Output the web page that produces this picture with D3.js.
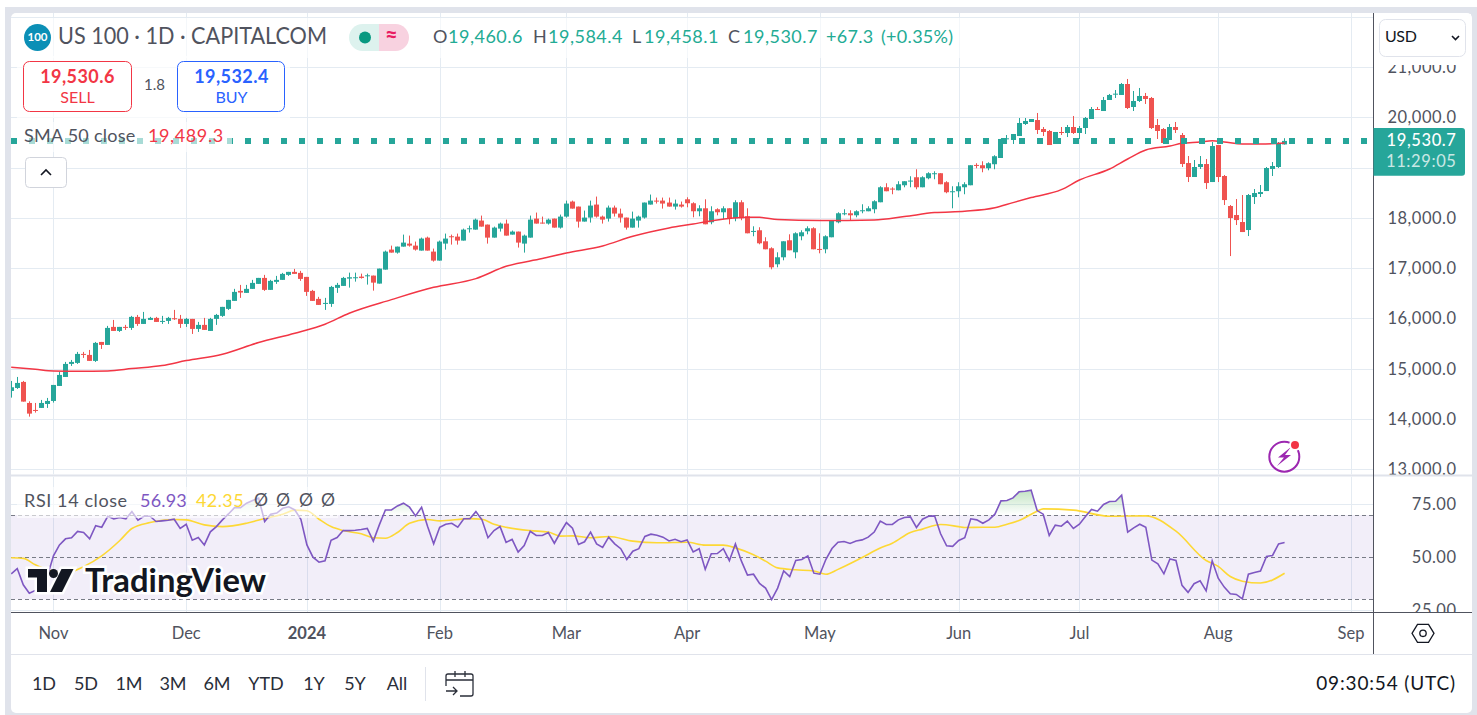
<!DOCTYPE html>
<html lang="en">
<head>
<meta charset="UTF-8">
<title>US 100 - 1D</title>
<script src="https://d3js.org/d3.v7.min.js"></script>
<style>
  html, body { margin: 0; padding: 0; background: #fff; overflow: hidden; }
  svg { display: block; }
  text { font-family: "Lato", "Noto Sans", sans-serif; }
</style>
</head>
<body>
<div id="chart"></div>
<script>
// values, one entry per daily bar
const opens = [
  14560,14619,14739,14321,14182,14222,14301,14361,14659,14838,
  15097,15117,15296,15276,15157,15534,15475,15833,15753,15833,
  15813,16032,15892,15972,16012,15939,15952,16005,15992,15892,
  15992,15793,15873,15753,15992,16052,16191,16350,16549,16509,
  16589,16688,16807,16569,16728,16768,16867,16927,16907,16827,
  16549,16390,16290,16290,16609,16648,16793,16800,16833,16839,
  16853,16694,16972,17370,17310,17429,17489,17449,17350,17608,
  17330,17151,17489,17635,17628,17549,17781,17767,17947,17867,
  17608,17787,17887,17668,17728,17489,17608,17986,17907,17887,
  17986,17807,18026,18325,18225,17927,18006,18265,18026,17986,
  18205,18086,18006,17807,17947,18006,18265,18344,18344,18305,
  18225,18265,18370,18291,18132,18191,17913,18172,18112,18191,
  17993,18311,18032,17721,17754,17535,17396,17078,17217,17555,
  17316,17635,17734,17794,17383,17376,17615,17913,18072,18092,
  18052,18132,18132,18172,18311,18609,18583,18549,18649,18729,
  18808,18609,18788,18874,18888,18709,18510,18530,18609,18649,
  19053,19047,18987,19067,19191,19569,19549,19628,19867,19907,
  19946,19767,19728,19469,19708,19688,19807,19688,19787,19966,
  20165,20125,20344,20450,20444,20662,20205,20324,20424,20384,
  19847,19767,19549,19807,19648,19091,18813,19012,19071,18713,
  19449,18833,18236,18057,17918,17759,18415,18475,18534,18972,
  19012,19460.6];
const highs = [
  14759,14838,14759,14354,14321,14381,14421,14679,14938,15137,
  15176,15336,15336,15375,15534,15534,15853,15972,15833,15873,
  16052,16071,16131,16032,16032,16052,16032,16171,16071,16012,
  15992,15932,16012,16012,16091,16231,16370,16589,16668,16668,
  16768,16807,16867,16768,16847,16907,16927,16986,16947,16827,
  16569,16430,16410,16648,16708,16827,16912,16912,16892,16892,
  16853,16992,17350,17449,17429,17668,17648,17529,17608,17628,
  17390,17549,17688,17668,17688,17787,17847,17986,18046,17867,
  17827,17907,17966,17748,17728,17668,18046,18106,18026,17986,
  17986,18066,18344,18344,18225,18145,18344,18424,18046,18245,
  18245,18185,18006,18125,18046,18305,18464,18404,18404,18404,
  18364,18325,18410,18311,18251,18370,18231,18191,18231,18191,
  18351,18351,18191,17833,17814,17615,17416,17316,17535,17674,
  17714,17754,17833,17814,17694,17654,17953,18112,18172,18152,
  18152,18271,18231,18351,18629,18689,18609,18729,18729,18828,
  18967,18828,18908,18927,18888,18729,18629,18709,18709,19047,
  19087,19126,19106,19246,19569,19648,19668,19986,19986,19966,
  20086,19807,19748,19708,19807,19847,20026,19827,20006,20205,
  20205,20404,20464,20543,20682,20762,20523,20583,20484,20404,
  19966,19787,19867,19907,19688,19230,19151,19230,19171,19509,
  19449,18853,18256,18375,18455,18475,18574,18654,19012,19111,
  19509,19584.4];
const lows = [
  14427,14600,14348,14049,14129,14222,14222,14328,14659,14838,
  15057,15097,15216,15157,15137,15395,15475,15753,15733,15773,
  15773,15853,15892,15972,15932,15892,15892,15972,15813,15833,
  15693,15733,15773,15753,15873,16032,16171,16350,16410,16509,
  16589,16688,16549,16569,16688,16768,16847,16887,16748,16449,
  16350,16270,16171,16231,16509,16648,16614,16733,16793,16674,
  16554,16694,16972,17310,17290,17429,17429,17350,17350,17350,
  17131,17151,17370,17469,17469,17549,17708,17767,17827,17489,
  17608,17728,17648,17668,17410,17310,17608,17887,17887,17867,
  17807,17787,18006,18185,17807,17927,17907,18006,17887,17927,
  18026,17907,17767,17807,17807,17986,18265,18285,18185,18225,
  18165,18205,18211,18012,18032,17873,17873,18052,17973,17873,
  17933,17953,17694,17635,17475,17376,16978,17018,17157,17356,
  17197,17555,17674,17376,17296,17296,17615,17893,18052,17953,
  18012,18092,18132,18092,18311,18530,18470,18549,18609,18609,
  18569,18609,18768,18768,18669,18490,18191,18410,18470,18649,
  18987,18907,18947,18967,19191,19469,19469,19628,19847,19907,
  19668,19628,19449,19469,19648,19608,19668,19569,19668,19966,
  20145,20125,20344,20384,20444,20165,20125,20304,20265,19767,
  19569,19489,19549,19688,19012,18713,18813,18972,18574,18713,
  18713,18256,17241,17858,17719,17639,18276,18415,18534,18833,
  18992,19458.1];
const closes = [
  14633,14719,14348,14109,14162,14321,14361,14679,14878,15097,
  15137,15296,15276,15157,15515,15475,15813,15753,15833,15813,
  16032,15892,15992,16012,15932,15952,16012,15985,15892,15992,
  15793,15873,15773,15992,16071,16231,16370,16529,16516,16589,
  16708,16807,16569,16748,16768,16887,16927,16887,16787,16529,
  16350,16270,16310,16628,16668,16807,16820,16820,16806,16859,
  16713,16992,17330,17310,17429,17509,17449,17370,17589,17350,
  17151,17529,17589,17615,17549,17767,17794,17966,17827,17608,
  17807,17887,17648,17728,17509,17648,17966,17887,17894,17966,
  17807,18026,18285,18185,17927,18006,18245,18026,17966,18205,
  18086,18006,17807,17986,18026,18305,18344,18325,18285,18225,
  18285,18225,18291,18132,18191,17873,18132,18112,18191,17993,
  18311,17993,17694,17741,17495,17376,17018,17217,17535,17356,
  17694,17714,17794,17376,17363,17635,17953,18092,18092,18052,
  18132,18152,18191,18331,18609,18530,18569,18669,18729,18742,
  18609,18808,18888,18888,18669,18510,18530,18629,18669,19047,
  19033,18987,19087,19226,19569,19582,19668,19887,19927,19966,
  19748,19708,19449,19708,19695,19807,19688,19787,19986,20165,
  20145,20344,20444,20470,20662,20185,20324,20424,20364,19787,
  19728,19489,19807,19748,19071,18813,19012,19071,18693,19429,
  18813,18355,17997,17957,17719,18455,18495,18514,18992,19032,
  19489,19530.7];

// SMA 50, read at these bar numbers
const smaBars = [0,4,7,11,16,20,25,29,35,41,47,52,56,63,70,77,82,88,92,98,103,109,113,116,122,124,127,134,143,148,153,158,163,166,169,174,177,182,185,188,192,194,197,199,201,204,207,211];
const smaVals = [15030,14990,14958,14951,14958,15004,15064,15163,15289,15521,15707,15886,16105,16375,16620,16793,17038,17191,17303,17443,17635,17801,17880,17940,18012,18012,17966,17946,17959,18026,18105,18132,18200,18304,18404,18561,18753,18972,19171,19350,19429,19482,19509,19535,19509,19469,19469,19489.3];

const rsiVals = [
  42.1,44.6,36.9,32.9,34.2,37.7,41,50.6,55.8,58.7,
  59.2,62.2,61.7,58.7,64.9,64.2,69.4,68.2,68.8,68.2,
  71.6,67.5,69.4,69.4,66.9,67.2,67.5,68,63.6,65.6,
  58,59.3,55.8,62,64.5,67.7,70.5,73.5,73.5,75.6,
  76.9,78,66.9,70.4,70.9,73.2,73.9,72.4,68,55.8,
  50,47.6,48.3,58,59.3,62.6,62.6,62.8,63.1,63.6,
  57.6,65.3,72.4,72.4,74.3,75.6,73.7,69.6,73.7,64.5,
  56.3,64.2,65.6,66.1,64.2,68.2,68.2,71.6,67.7,59.2,
  62.6,64.5,57,58.4,52.4,55.5,62.3,60.3,60.3,61.7,
  56.6,61.7,66.4,63.7,56,57.3,61.9,56.3,54.6,59.5,
  56.3,54,48.9,52.8,54,59.8,60.9,60.4,59.5,57.7,
  58.5,57.3,58.2,52.5,54,44.2,51.6,51.7,54,48.3,
  56.3,48.1,41.5,41.9,37.5,35.3,29.9,35.3,43.5,40.8,
  48.4,48.9,50.6,42.4,41.9,49,54.1,57.1,57.4,56.5,
  57.7,58.2,59.5,61.9,67.1,65.5,65.5,67.7,68.8,69.1,
  64.1,68,69.4,69.6,61.1,55.4,55.1,57.9,59.2,68.2,
  67.7,66.1,67.7,70.4,76.7,76.9,78.1,81,81.3,81.8,
  72.1,70.4,60.3,65.2,64.7,67.1,63.6,65.6,69.3,72.6,
  71.8,75,76.4,76.5,79.4,61.9,63.9,65.6,64.2,48.6,
  46.8,42.1,49.1,48.4,36.6,33.3,37.4,38.8,34,48.3,
  40,35.8,32.6,32.3,30.2,41.9,42.7,43.4,50.3,50.8,
  56.3,56.93];

// RSI moving average, read at these bar numbers
const rsiMaBars = [0,2,4,6,9,12,15,18,20,23,27,29,32,35,39,42,45,47,49,51,53,55,58,60,62,64,66,69,71,76,78,80,82,86,89,91,93,96,99,103,107,112,115,118,120,123,125,127,130,133,135,137,141,144,146,149,151,154,157,158,161,163,165,167,170,171,176,182,188,193,198,200,202,204,207,211];
const rsiMaVals = [49.7,49.4,46.4,44,42.5,45.5,50.6,57.9,63.6,66.4,67.9,67.7,65.3,64.5,66.1,68.3,70.4,72.3,72,68,64.5,62.6,61.1,59.2,59,61.7,66.1,67.9,67.2,68.3,68,65.6,64.2,62.6,61.9,60,60.1,59.2,59.8,57.6,56.8,57.1,55.7,55.7,54.4,51.1,48.1,44.9,44,43.4,41.9,44.2,49.8,54.3,56.6,61.7,63.3,65.5,64.5,64.1,64.2,64.2,65.6,67.4,71.8,72.9,72.3,69.4,69.6,62.3,48.4,45.6,40.8,38.6,37.7,42.35];

const priceTicks = [13000,14000,15000,16000,17000,18000,19000,20000,21000,22000];
const priceLabels = [13000,14000,15000,16000,17000,18000,20000,21000]; // 19,000 sits under the last price tag
const rsiTicks = [25,50,75];
const rsiLevels = [30,50,70];
const timeBars = [7,29,49,71,92,112,134,157,177,200,222];
const timeLabels = ["Nov","Dec","2024","Feb","Mar","Apr","May","Jun","Jul","Aug","Sep"];
const rangeLabels = ["1D","5D","1M","3M","6M","YTD","1Y","5Y","All"];
const rangeCenters = [44,86,129,173,217,266,314,355,397];

const up = "#26a69a", down = "#ef5350", gridCol = "#e4ebf2", textCol = "#50535e", frameCol = "#e0e3eb";

const W = 1477, H = 715;
const paneL = 11, paneR = 1373, mainT = 13, mainB = 474.5, rsiT = 476.5, rsiB = 612;
const labelTop = 65;

const svg = d3.select("#chart").append("svg").attr("width", W).attr("height", H);

const x = d3.scaleLinear().domain([0, 211]).range([11.2, 1284.6]);
const y = d3.scaleLinear().domain([13000, 20000]).range([469.4, 117.3]);
const yRsi = d3.scaleLinear().domain([30, 70]).range([599.3, 515]);

// outer frame
svg.append("rect").attr("x", 5).attr("y", 7).attr("width", W - 5).attr("height", H - 7).attr("fill", frameCol);
svg.append("rect").attr("x", paneL).attr("y", mainT).attr("width", 1461).attr("height", 700).attr("rx", 5).attr("fill", "#fff");

const defs = svg.append("defs");
function clip(id, x0, y0, w, h) {
  defs.append("clipPath").attr("id", id).append("rect").attr("x", x0).attr("y", y0).attr("width", w).attr("height", h);
}
clip("mainClip", paneL, mainT, paneR - paneL, mainB - mainT);
clip("rsiClip", paneL, rsiT, paneR - paneL, rsiB - rsiT);
clip("aboveClip", paneL, rsiT, paneR - paneL, yRsi(70) - rsiT);
clip("priceLabels", paneR, labelTop, 98, mainB - labelTop);
clip("rsiLabels", paneR, rsiT, 98, rsiB - rsiT);

const gradient = defs.append("linearGradient").attr("id", "obFill").attr("x1", 0).attr("x2", 0).attr("y1", 0).attr("y2", 1)
  .attr("gradientUnits", "userSpaceOnUse").attr("y1", yRsi(82)).attr("y2", yRsi(70));
gradient.append("stop").attr("offset", 0).attr("stop-color", "#4caf50").attr("stop-opacity", 0.35);
gradient.append("stop").attr("offset", 1).attr("stop-color", "#4caf50").attr("stop-opacity", 0);

const main = svg.append("g").attr("clip-path", "url(#mainClip)");
const pane2 = svg.append("g").attr("clip-path", "url(#rsiClip)");

// grid lines
function snap(v) { return Math.round(v) + 0.5; }
main.selectAll(".vg").data(timeBars).join("line")
  .attr("x1", d => snap(x(d))).attr("x2", d => snap(x(d))).attr("y1", mainT).attr("y2", mainB)
  .attr("stroke", gridCol);
main.selectAll(".hg").data(priceTicks).join("line")
  .attr("x1", paneL).attr("x2", paneR).attr("y1", d => snap(y(d))).attr("y2", d => snap(y(d)))
  .attr("stroke", gridCol);

// candles
const bars = d3.range(opens.length);
main.selectAll(".wick").data(bars).join("line")
  .attr("x1", d => snap(x(d) - 0.5)).attr("x2", d => snap(x(d) - 0.5))
  .attr("y1", d => y(highs[d])).attr("y2", d => y(lows[d]))
  .attr("stroke", d => closes[d] >= opens[d] ? up : down);
main.selectAll(".body").data(bars).join("rect")
  .attr("x", d => Math.round(x(d) - 0.5) - 2).attr("width", 5)
  .attr("y", d => Math.min(y(opens[d]), y(closes[d])))
  .attr("height", d => Math.max(1, Math.abs(y(opens[d]) - y(closes[d]))))
  .attr("fill", d => closes[d] >= opens[d] ? up : down);

// SMA line
main.append("path")
  .attr("d", d3.line().x((d, i) => x(smaBars[i])).y(d => y(d)).curve(d3.curveMonotoneX)(smaVals))
  .attr("fill", "none").attr("stroke", "#f23645").attr("stroke-width", 1.5);

// last price line
main.append("line")
  .attr("x1", paneL).attr("x2", paneR).attr("y1", y(closes[211])).attr("y2", y(closes[211]))
  .attr("stroke", up).attr("stroke-width", 6).attr("stroke-dasharray", "6 12");

// RSI pane
pane2.selectAll(".vg").data(timeBars).join("line")
  .attr("x1", d => snap(x(d))).attr("x2", d => snap(x(d))).attr("y1", rsiT).attr("y2", rsiB)
  .attr("stroke", gridCol);
pane2.selectAll(".hg").data(rsiTicks.filter(d => d != 50)).join("line")
  .attr("x1", paneL).attr("x2", paneR).attr("y1", d => snap(yRsi(d))).attr("y2", d => snap(yRsi(d)))
  .attr("stroke", gridCol);
pane2.append("rect").attr("x", paneL).attr("width", paneR - paneL)
  .attr("y", yRsi(70)).attr("height", yRsi(30) - yRsi(70)).attr("fill", "#7e57c2").attr("opacity", 0.1);
pane2.selectAll(".lvl").data(rsiLevels).join("line")
  .attr("x1", paneL).attr("x2", paneR).attr("y1", d => snap(yRsi(d))).attr("y2", d => snap(yRsi(d)))
  .attr("stroke", "#787b86").attr("stroke-dasharray", "4 3");
pane2.append("path")
  .attr("clip-path", "url(#aboveClip)")
  .attr("d", d3.area().x((d, i) => x(i)).y0(yRsi(70)).y1(d => yRsi(d))(rsiVals))
  .attr("fill", "url(#obFill)");
pane2.append("path")
  .attr("d", d3.line().x((d, i) => x(rsiMaBars[i])).y(d => yRsi(d)).curve(d3.curveMonotoneX)(rsiMaVals))
  .attr("fill", "none").attr("stroke", "#fdd835").attr("stroke-width", 1.6);
pane2.append("path")
  .attr("d", d3.line().x((d, i) => x(i)).y(d => yRsi(d))(rsiVals))
  .attr("fill", "none").attr("stroke", "#7e57c2").attr("stroke-width", 1.6);

// small text helper, py is the visual middle of the digits
function label(px, py, str, size, fill, anchor, weight, spacing) {
  return svg.append("text").attr("x", px).attr("y", py + 1.5).text(str)
    .attr("font-size", size).attr("fill", fill)
    .attr("text-anchor", anchor || "start").attr("font-weight", weight || 400)
    .attr("letter-spacing", spacing || 0)
    .attr("dominant-baseline", "middle");
}
function veil(x0, y0, w, h, op) {
  svg.append("rect").attr("x", x0).attr("y", y0).attr("width", w).attr("height", h).attr("fill", "#fff").attr("opacity", op);
}

// legend veils
veil(17, 18, 945, 40, 0.6);
veil(17, 56, 273, 62, 0.7);
veil(17, 122, 215, 30, 0.6);
veil(17, 487, 321, 31, 0.6);

// header
svg.append("circle").attr("cx", 37.5).attr("cy", 37.5).attr("r", 13.5).attr("fill", "#0b8fb6");
label(37.5, 36.5, "100", 11.5, "#fff", "middle", 700);
label(58, 36.5, "US 100 · 1D · CAPITALCOM", 22.5, textCol).attr("textLength", 269).attr("lengthAdjust", "spacingAndGlyphs");
svg.append("path").attr("d", "M379 24 H362.5 A13.5 13.5 0 0 0 362.5 51 H379 Z").attr("fill", "#ddf2ee");
svg.append("path").attr("d", "M379 24 H395.5 A13.5 13.5 0 0 1 395.5 51 H379 Z").attr("fill", "#f8d2e0");
svg.append("circle").attr("cx", 365).attr("cy", 37.5).attr("r", 6).attr("fill", "#089981");
label(391.5, 36, "≈", 22, "#e91e63", "middle", 700);

const teal = "#22ab94";
label(433, 37, "O", 18, textCol); label(448, 37, "19,460.6", 18, teal, "start", 400, 0.5);
label(533, 37, "H", 18, textCol); label(548, 37, "19,584.4", 18, teal, "start", 400, 0.5);
label(632, 37, "L", 18, textCol); label(644, 37, "19,458.1", 18, teal, "start", 400, 0.5);
label(728, 37, "C", 18, textCol); label(743, 37, "19,530.7", 18, teal, "start", 400, 0.5);
label(826, 37, "+67.3", 18, teal, "start", 400, 0.3); label(881, 37, "(+0.35%)", 18, teal, "start", 400, 0.3);

// sell / buy boxes
svg.append("rect").attr("x", 23.5).attr("y", 61.5).attr("width", 108).attr("height", 50).attr("rx", 6)
  .attr("fill", "#fff").attr("stroke", "#f23645");
svg.append("rect").attr("x", 177.5).attr("y", 61.5).attr("width", 107).attr("height", 50).attr("rx", 6)
  .attr("fill", "#fff").attr("stroke", "#2962ff");
label(77.5, 77, "19,530.6", 18, "#f23645", "middle", 700, 0.45);
label(77.5, 97, "SELL", 16, "#f23645", "middle");
label(154.5, 85, "1.8", 15, textCol, "middle");
label(231.5, 77, "19,532.4", 18, "#2962ff", "middle", 700, 0.45);
label(231.5, 97, "BUY", 16, "#2962ff", "middle");

label(24, 136, "SMA 50 close", 18, textCol, "start", 400, 0.25);
label(148, 136, "19,489.3", 18, "#f23645", "start", 400, 0.6);
svg.append("rect").attr("x", 25.5).attr("y", 157.5).attr("width", 41).attr("height", 30).attr("rx", 4)
  .attr("fill", "#fff").attr("stroke", "#d1d4dc");
svg.append("path").attr("d", "M41 175 L46 170 L51 175").attr("fill", "none").attr("stroke", "#131722").attr("stroke-width", 1.6);

// lightning badge
svg.append("circle").attr("cx", 1284.3).attr("cy", 456.7).attr("r", 15).attr("fill", "#fff").attr("stroke", "#9c27b0").attr("stroke-width", 2);
svg.append("path").attr("d", "M1291 447 L1278 457.5 H1284 L1277 466 L1291 455 H1285 Z").attr("fill", "#9c27b0");
svg.append("circle").attr("cx", 1295).attr("cy", 445).attr("r", 6).attr("fill", "#fff");
svg.append("circle").attr("cx", 1295).attr("cy", 445).attr("r", 4).attr("fill", "#f23645");

// RSI legend
label(24, 500.5, "RSI 14 close", 18, textCol, "start", 400, 0.6);
label(140, 500.5, "56.93", 18, "#7e57c2", "start", 400, 0.2);
label(196, 500.5, "42.35", 18, "#fdd835", "start", 400, 0.4);
[254, 276, 299, 321].forEach(px => label(px, 500.5, "Ø", 17.5, textCol));

// TradingView mark
svg.append("path")
  .attr("d", "M28 569 H47 V592 H37 V577.5 H28 Z M61.5 569 H73.5 L62 592 H50 Z")
  .attr("fill", "#131722").attr("stroke", "#fff").attr("stroke-width", 5).attr("paint-order", "stroke");
svg.append("circle").attr("cx", 53.5).attr("cy", 573.5).attr("r", 4.5).attr("fill", "#131722");
svg.append("text").attr("x", 85).attr("y", 592).text("TradingView")
  .attr("font-size", 32).attr("font-weight", 700).attr("fill", "#131722")
  .attr("textLength", 181).attr("lengthAdjust", "spacingAndGlyphs")
  .attr("stroke", "#fff").attr("stroke-width", 5).attr("paint-order", "stroke");

// pane dividers and scale borders
svg.append("rect").attr("x", paneL).attr("y", 474.5).attr("width", 1461).attr("height", 2).attr("fill", frameCol);
svg.append("line").attr("x1", paneL).attr("x2", 1472).attr("y1", 612.5).attr("y2", 612.5).attr("stroke", textCol);
svg.append("line").attr("x1", 1373.5).attr("x2", 1373.5).attr("y1", mainT).attr("y2", 654).attr("stroke", textCol);
svg.append("line").attr("x1", paneL).attr("x2", 1472).attr("y1", 654.5).attr("y2", 654.5).attr("stroke", frameCol);

// price axis
const priceAxis = d3.axisRight(y).tickValues(priceLabels)
  .tickFormat(d => d3.format(",.1f")(d)).tickSize(0);
const gp = svg.append("g").attr("clip-path", "url(#priceLabels)").append("g").attr("transform", "translate(1373.5,0)").call(priceAxis);
gp.select(".domain").remove();
gp.selectAll("text").attr("x", 83).attr("text-anchor", "end").attr("font-size", 16.5).attr("fill", textCol)
  .attr("letter-spacing", 0.5)
  .style("font-family", '"Lato", "Noto Sans", sans-serif');

const rsiAxis = d3.axisRight(yRsi).tickValues(rsiTicks).tickFormat(d3.format(".2f")).tickSize(0);
const gr = svg.append("g").attr("clip-path", "url(#rsiLabels)").append("g").attr("transform", "translate(1373.5,0)").call(rsiAxis);
gr.select(".domain").remove();
gr.selectAll("text").attr("x", 83).attr("text-anchor", "end").attr("font-size", 16.5).attr("fill", textCol)
  .attr("letter-spacing", 0.5)
  .style("font-family", '"Lato", "Noto Sans", sans-serif');

// time axis
const timeAxis = d3.axisBottom(x).tickValues(timeBars).tickFormat((d, i) => timeLabels[i]).tickSize(0).tickPadding(0);
const gt = svg.append("g").attr("transform", "translate(-0.5,612)").call(timeAxis);
gt.select(".domain").remove();
gt.selectAll("text").attr("y", 22.5).attr("dy", 0).attr("dominant-baseline", "middle")
  .attr("font-size", 16.5).attr("fill", textCol)
  .attr("font-weight", (d, i) => timeLabels[i] == "2024" ? 700 : 400)
  .style("font-family", '"Lato", "Noto Sans", sans-serif');

// currency box
svg.append("rect").attr("x", 1374).attr("y", 14).attr("width", 97).attr("height", labelTop - 14).attr("fill", "#fff");
svg.append("rect").attr("x", 1379.5).attr("y", 19.5).attr("width", 86).attr("height", 37).attr("rx", 6)
  .attr("fill", "#fff").attr("stroke", frameCol);
label(1385, 36.5, "USD", 16, "#131722", "start", 400, -0.4);
svg.append("path").attr("d", "M1452 36 L1455.5 39.5 L1459 36").attr("fill", "none").attr("stroke", "#131722").attr("stroke-width", 1.6);

// last price tag
svg.append("path").attr("d", "M1373.5 128 H1462 Q1465 128 1465 131 V172.7 Q1465 175.7 1462 175.7 H1373.5 Z").attr("fill", up);
label(1456.5, 140.5, "19,530.7", 16.5, "#fff", "end", 500, 0.6);
label(1456.5, 161, "11:29:05", 16.5, "#fff", "end", 400, 0.6).attr("opacity", 0.75);

// settings icon
svg.append("path").attr("d", "M1412 633.3 L1417.5 624.3 H1428.5 L1434 633.3 L1428.5 642.3 H1417.5 Z")
  .attr("fill", "none").attr("stroke", "#131722").attr("stroke-width", 1.3);
svg.append("circle").attr("cx", 1423).attr("cy", 633.3).attr("r", 3.2).attr("fill", "none").attr("stroke", "#131722").attr("stroke-width", 1.3);

// bottom toolbar
rangeLabels.forEach((t, i) => label(rangeCenters[i], 683.5, t, 18, "#2a2e39", "middle"));
svg.append("line").attr("x1", 425.5).attr("x2", 425.5).attr("y1", 667).attr("y2", 701).attr("stroke", frameCol);
svg.append("path")
  .attr("d", "M446 686 V676 Q446 674 448 674 H471 Q473 674 473 676 V694 Q473 696 471 696 H460 M446 680 H473 M455 671 V677 M465 671 V677 M446 691 H457 M453 687 L457 691 L453 695")
  .attr("fill", "none").attr("stroke", "#2a2e39").attr("stroke-width", 1.3);
label(1456, 683.5, "09:30:54 (UTC)", 19, "#131722", "end", 400, 0.85);
</script>
</body>
</html>
